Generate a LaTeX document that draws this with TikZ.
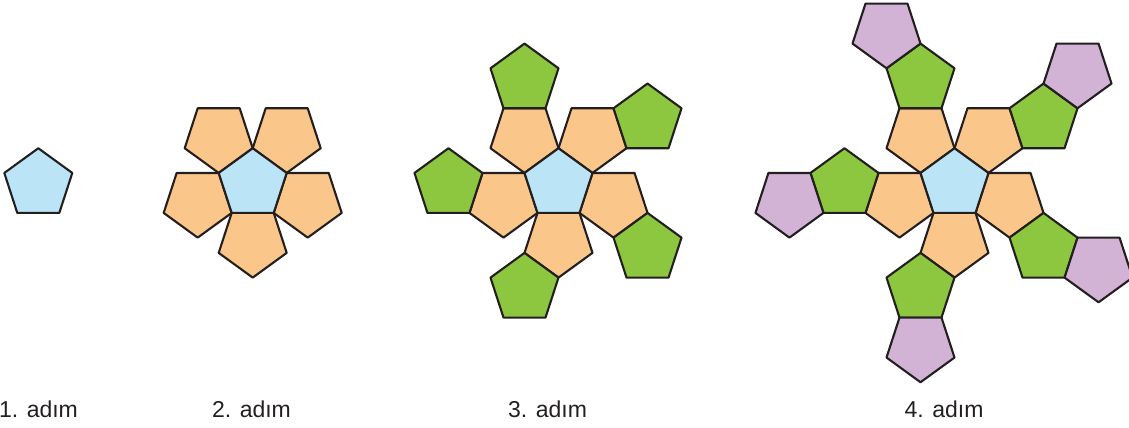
\documentclass[tikz,border=0pt]{standalone}
\usepackage{fontspec}
\setmainfont{Liberation Sans}
\usetikzlibrary{calc}
\definecolor{cblue}{RGB}{187,228,246}
\definecolor{corange}{RGB}{251,198,137}
\definecolor{cgreen}{RGB}{141,198,63}
\definecolor{cpurple}{RGB}{210,179,213}
\definecolor{edgecol}{RGB}{35,31,32}
\def\R{35.75}
\def\rr{57.85}
\tikzset{
  pen/.style={draw=edgecol, line width=2.1pt, line join=round},
  lab/.style={inner sep=0pt, font=\fontsize{23}{27}\selectfont, text=edgecol}
}
\newcommand\pentagon[3]{%
  \draw[pen, fill=#3]
    ($(#1)+(90+#2:\R pt)$) -- ($(#1)+(162+#2:\R pt)$) -- ($(#1)+(234+#2:\R pt)$)
    -- ($(#1)+(306+#2:\R pt)$) -- ($(#1)+(18+#2:\R pt)$) -- cycle;}
\begin{document}
\begin{tikzpicture}[x=1pt,y=1pt]
\useasboundingbox (0,0) rectangle (1129,428);
\clip (0,0) rectangle (1129,428);
% step 1
\coordinate (A) at (38.3,244);
\pentagon{A}{0}{cblue}
% step 2
\coordinate (B) at (252.7,244);
\foreach \t [count=\i] in {270,342,54,126,198}{
  \coordinate (B-o\i) at ($(B)+(\t:\rr pt)$);
  \pentagon{B-o\i}{180}{corange}
}
\pentagon{B}{0}{cblue}
% step 3
\coordinate (C) at (558.5,244);
\foreach \t [count=\i] in {270,342,54,126,198}{
  \coordinate (C-o\i) at ($(C)+(\t:\rr pt)$);
  \coordinate (C-g\i) at ($(C-o\i)+(\t-36:\rr pt)$);
  \pentagon{C-o\i}{180}{corange}
  \pentagon{C-g\i}{0}{cgreen}
}
\pentagon{C}{0}{cblue}
% step 4
\coordinate (D) at (954.5,244);
\foreach \t [count=\i] in {270,342,54,126,198}{
  \coordinate (D-o\i) at ($(D)+(\t:\rr pt)$);
  \coordinate (D-g\i) at ($(D-o\i)+(\t-36:\rr pt)$);
  \coordinate (D-p\i) at ($(D-g\i)+(\t:\rr pt)$);
  \pentagon{D-o\i}{180}{corange}
  \pentagon{D-g\i}{0}{cgreen}
  \pentagon{D-p\i}{180}{cpurple}
}
\pentagon{D}{0}{cblue}
% labels
\node[lab, anchor=base] (l1) at (38.5,10) {1. adım};
\node[lab, anchor=base] (l2) at (251.5,10) {2. adım};
\node[lab, anchor=base] (l3) at (547.5,10) {3. adım};
\node[lab, anchor=base] (l4) at (944,10) {4. adım};
\end{tikzpicture}
\end{document}
